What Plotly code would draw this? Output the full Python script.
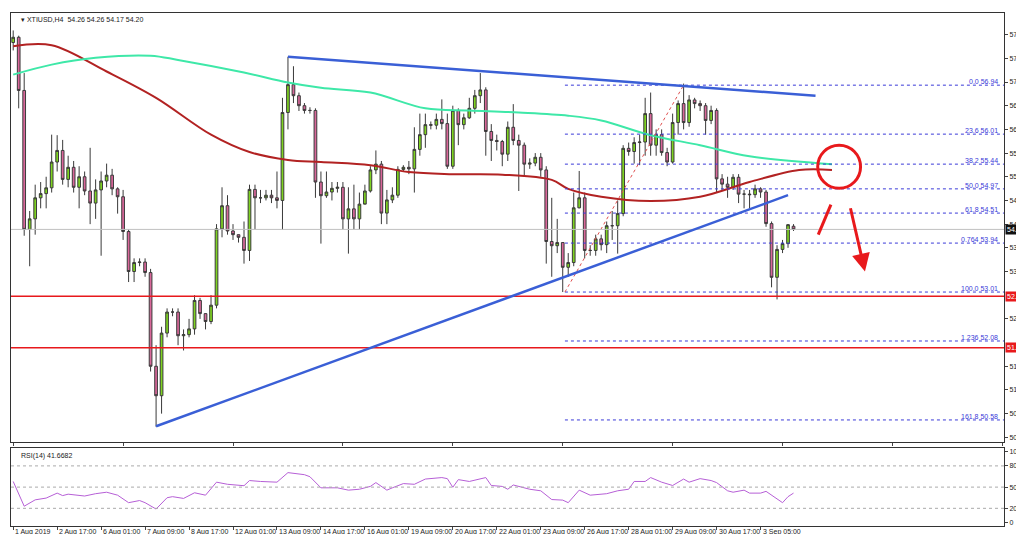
import plotly.graph_objects as go

# candle closes, 4h bars
closes = [57.85, 56.84, 54.20, 54.40, 54.80, 54.88, 54.99, 55.48, 55.70, 55.15,
          55.38, 55.00, 55.20, 54.93, 54.70, 54.95, 55.12, 55.23, 54.97, 54.82,
          54.16, 53.40, 53.57, 53.58, 53.38, 51.60, 51.04, 52.23, 52.63, 52.63,
          52.18, 52.20, 52.31, 52.85, 52.60, 52.45, 52.76, 54.21, 54.65, 54.17,
          54.10, 54.05, 53.80, 54.96, 54.80, 54.80, 54.85, 54.80, 54.75, 56.42,
          56.95, 56.74, 56.55, 56.46, 56.46, 55.10, 54.84, 54.91, 54.98, 55.00,
          54.40, 54.59, 54.40, 54.68, 54.93, 55.33, 55.44, 54.51, 54.76, 54.85,
          55.34, 55.38, 55.35, 55.72, 56.00, 56.19, 56.18, 56.29, 56.21, 55.40,
          56.46, 56.19, 56.32, 56.50, 56.74, 56.85, 56.06, 55.89, 55.87, 55.63,
          56.14, 55.89, 55.80, 55.44, 55.46, 55.57, 55.33, 53.97, 53.89, 53.95,
          53.48, 53.57, 54.61, 54.80, 53.80, 53.80, 54.02, 53.91, 54.27, 54.27,
          54.50, 55.74, 55.68, 55.85, 55.86, 56.40, 55.80, 56.00, 55.66, 55.48,
          56.23, 56.59, 56.23, 56.66, 56.59, 56.55, 56.27, 56.46, 55.16, 55.06,
          55.00, 55.19, 54.87, 54.87, 54.86, 54.97, 54.91, 54.31, 53.29, 53.82,
          53.93, 54.29, 54.20]
highs = [57.98, 57.88, 57.17, 54.55, 55.05, 55.10, 55.20, 56.00, 55.99, 55.90,
         55.60, 55.50, 55.40, 55.30, 55.75, 55.15, 55.30, 55.45, 55.35, 55.00,
         54.95, 54.20, 53.65, 53.65, 53.65, 53.45, 52.00, 52.35, 52.70, 52.70,
         52.70, 52.30, 52.50, 52.95, 52.90, 52.60, 52.95, 54.30, 55.00, 54.85,
         54.30, 54.10, 54.35, 55.05, 55.05, 54.95, 54.95, 54.95, 55.30, 56.70,
         57.48, 57.30, 56.80, 56.60, 56.52, 56.50, 55.30, 55.30, 55.10, 55.10,
         55.10, 55.00, 55.05, 54.90, 55.05, 55.40, 55.70, 55.50, 54.95, 55.00,
         55.40, 55.42, 55.50, 56.14, 56.40, 56.40, 56.25, 56.40, 56.67, 56.40,
         56.55, 56.50, 56.40, 56.70, 56.85, 57.17, 56.90, 56.20, 56.00, 55.90,
         56.25, 56.58, 56.00, 55.85, 55.55, 55.65, 55.65, 55.40, 54.80, 54.40,
         53.95, 53.75, 54.90, 55.31, 54.90, 53.90, 54.10, 54.10, 54.35, 54.55,
         54.75, 55.80, 55.85, 55.95, 56.00, 56.70, 56.80, 56.10, 56.10, 55.75,
         56.40, 56.65, 56.97, 56.75, 56.70, 56.65, 56.60, 56.55, 56.50, 55.25,
         55.20, 55.25, 55.25, 54.95, 54.95, 55.05, 55.00, 54.95, 54.35, 53.90,
         54.00, 54.30, 54.30]
lows = [57.60, 56.50, 54.08, 53.50, 54.10, 54.60, 54.60, 54.90, 55.30, 55.05,
        55.00, 54.90, 54.60, 54.85, 54.30, 54.40, 53.70, 55.00, 54.85, 54.50,
        54.00, 53.20, 53.20, 53.50, 53.30, 51.50, 50.45, 50.70, 52.15, 52.55,
        52.00, 51.90, 52.15, 52.20, 52.50, 52.30, 52.40, 52.70, 54.05, 54.10,
        54.00, 53.95, 53.55, 53.60, 54.20, 54.70, 54.75, 54.70, 54.60, 54.19,
        56.10, 56.60, 56.45, 56.40, 56.40, 54.80, 53.93, 54.80, 54.75, 54.90,
        54.20, 53.74, 54.20, 54.20, 54.70, 54.90, 55.25, 54.30, 54.30, 54.70,
        54.80, 55.30, 55.25, 54.90, 55.60, 55.75, 56.10, 56.10, 56.10, 55.35,
        55.35, 55.80, 56.10, 56.30, 56.40, 56.60, 55.60, 55.50, 55.70, 55.40,
        55.50, 55.80, 54.93, 55.20, 55.35, 55.40, 55.20, 53.55, 53.30, 53.75,
        53.01, 53.30, 53.50, 54.60, 53.65, 53.70, 53.70, 53.80, 53.75, 54.00,
        53.74, 54.45, 55.60, 55.45, 55.42, 55.60, 55.60, 55.60, 55.60, 55.40,
        55.45, 56.00, 56.10, 56.15, 56.50, 56.45, 56.00, 56.20, 54.90, 54.95,
        54.80, 54.95, 54.70, 54.60, 54.60, 54.80, 54.80, 54.25, 53.10, 52.87,
        53.75, 53.85, 54.17]
opens = [57.75] + closes[:-1]
opens[-1] = 54.26

# moving averages (bar index, price)
ma_red_x = [0, 7, 17, 26, 36, 43, 50, 56, 65, 72, 80, 89, 98, 101, 107, 116, 125, 134, 143, 149]
ma_red_y = [57.68, 57.70, 57.20, 56.70, 56.00, 55.67, 55.52, 55.48, 55.42, 55.29,
            55.25, 55.24, 55.14, 54.97, 54.82, 54.74, 54.82, 55.10, 55.33, 55.33]
ma_green_x = [0, 7, 15, 25, 30, 42, 50, 56, 65, 75, 83, 92, 101, 107, 116, 125, 134, 149]
ma_green_y = [57.14, 57.33, 57.46, 57.50, 57.42, 57.18, 56.99, 56.89, 56.80, 56.50,
              56.46, 56.42, 56.36, 56.27, 55.99, 55.80, 55.59, 55.44]

rsi_x = [0, 2, 4, 6, 8, 9, 10, 13, 15, 17, 19, 21, 23, 24, 26, 28, 29, 31, 33, 35,
         37, 39, 42, 43, 45, 48, 50, 53, 54, 56, 59, 61, 63, 65, 66, 68, 69, 71, 73, 75,
         78, 79, 80, 81, 83, 86, 87, 89, 90, 91, 94, 96, 98, 100, 101, 103, 105, 108, 110, 112,
         113, 115, 116, 118, 120, 122, 123, 125, 127, 128, 130, 131, 133, 134, 136, 137, 140, 141, 142]
rsi_y = [58, 23, 32, 34.5, 41.5, 38, 40, 37.4, 40.7, 42.8, 38.6, 28, 31, 28, 19, 35, 36.5, 34, 42, 38.6,
         57, 54, 52, 59.3, 58, 57, 70.5, 67.6, 64.7, 49, 49, 45.7, 47, 51, 56.4, 45.7, 49, 55, 54, 61.4,
         63.5, 62, 49.8, 60.6, 58, 63.5, 52.3, 51, 47, 53, 47, 44.8, 32.4, 31.6, 28, 45.7, 38.6, 40.7, 44.8, 47,
         58, 58, 63.5, 57, 52.3, 61.4, 57, 62, 59.3, 56.4, 44.8, 42.8, 45.7, 41.5, 41.5, 44, 28, 36.5, 41.5]

fib_levels = [56.94, 56.01, 55.44, 54.97, 54.51, 53.94, 53.01, 52.08, 50.58]
fib_names = ["0.0", "23.6", "38.2", "50.0", "61.8", "0.764", "100.0", "1.236", "161.8"]

price_ticks = [57.90, 57.45, 57.00, 56.55, 56.10, 55.65, 55.20, 54.75, 54.30, 53.85,
               53.40, 52.50, 51.60, 51.15, 50.70, 50.25]
time_labels = ["1 Aug 2019", "2 Aug 17:00", "6 Aug 01:00", "7 Aug 09:00", "8 Aug 17:00",
               "12 Aug 01:00", "13 Aug 09:00", "14 Aug 17:00", "16 Aug 01:00", "19 Aug 09:00",
               "20 Aug 17:00", "22 Aug 01:00", "23 Aug 09:00", "26 Aug 17:00", "28 Aug 01:00",
               "29 Aug 09:00", "30 Aug 17:00", "3 Sep 05:00"]

idx = list(range(len(closes)))
XR = [-0.4, 180.3]
FONT = "Liberation Sans"

fig = go.Figure()
fig.add_trace(go.Candlestick(
    x=idx, open=opens, high=highs, low=lows, close=closes,
    increasing=dict(fillcolor="#7ed321", line=dict(color="#3a3a3a", width=1)),
    decreasing=dict(fillcolor="#d9679a", line=dict(color="#3a3a3a", width=1)),
    whiskerwidth=0, showlegend=False, hoverinfo="skip"))
fig.add_trace(go.Scatter(x=ma_red_x, y=ma_red_y, mode="lines", line_shape="spline",
                         line=dict(color="#b22222", width=2), showlegend=False))
fig.add_trace(go.Scatter(x=ma_green_x, y=ma_green_y, mode="lines", line_shape="spline",
                         line=dict(color="#3ee8a8", width=2), showlegend=False))
fig.add_trace(go.Scatter(x=rsi_x, y=rsi_y, mode="lines", xaxis="x2", yaxis="y2",
                         line=dict(color="#b65fd6", width=1), showlegend=False))

shapes = []
# fib retracement
for lv in fib_levels:
    shapes.append(dict(type="line", x0=100.4, x1=XR[1], y0=lv, y1=lv, xref="x", yref="y",
                       line=dict(color="#3a3ad8", width=1, dash="dot")))
shapes.append(dict(type="line", x0=100.4, x1=122, y0=53.01, y1=56.94, xref="x", yref="y",
                   line=dict(color="#e05050", width=1, dash="dot")))
# support lines, current price
for lv in [52.93, 51.95]:
    shapes.append(dict(type="line", x0=XR[0], x1=XR[1], y0=lv, y1=lv, xref="x", yref="y",
                       line=dict(color="#e8191c", width=1.5)))
shapes.append(dict(type="line", x0=XR[0], x1=XR[1], y0=54.20, y1=54.20, xref="x", yref="y",
                   line=dict(color="#c0c0c0", width=1)))
# trend lines
shapes.append(dict(type="line", x0=26, x1=141, y0=50.46, y1=54.85, xref="x", yref="y",
                   line=dict(color="#3a5fd6", width=2.5)))
shapes.append(dict(type="line", x0=50, x1=146, y0=57.48, y1=56.74, xref="x", yref="y",
                   line=dict(color="#3a5fd6", width=2.5)))
# circle + sketch marks
shapes.append(dict(type="circle", x0=146.4, x1=154.2, y0=54.98, y1=55.8, xref="x", yref="y",
                   line=dict(color="#e8191c", width=3)))
shapes.append(dict(type="line", x0=146.5, x1=148.8, y0=54.10, y1=54.67, xref="x", yref="y",
                   line=dict(color="#e8191c", width=3)))
# RSI grid
for lv in [20, 50, 80]:
    shapes.append(dict(type="line", x0=XR[0], x1=XR[1], y0=lv, y1=lv, xref="x2", yref="y2",
                       line=dict(color="#aaaaaa", width=1, dash="dot")))

ann = []
for lv, nm in zip(fib_levels, fib_names):
    ann.append(dict(x=179.5, y=lv, xref="x", yref="y", text=f"{nm} {lv:.2f}", showarrow=False,
                    xanchor="right", yanchor="bottom", yshift=-2,
                    font=dict(size=7, color="#3a3ad8", family=FONT)))
for lv, bg in [(52.93, "#e8191c"), (51.95, "#e8191c"), (54.20, "#111111")]:
    ann.append(dict(x=1, y=lv, xref="paper", yref="y", text=f"{lv:.2f}", showarrow=False,
                    xanchor="left", xshift=1, bgcolor=bg, borderpad=1,
                    font=dict(size=7, color="white", family=FONT)))
ann.append(dict(x=155, y=53.40, ax=152.3, ay=54.63, xref="x", yref="y", axref="x", ayref="y",
                text="", showarrow=True, arrowhead=2, arrowsize=1.2, arrowwidth=3,
                arrowcolor="#e8191c"))
ann.append(dict(x=0.008, y=0.995, xref="paper", yref="paper", text="▾ XTIUSD,H4  54.26 54.26 54.17 54.20",
                showarrow=False, xanchor="left", yanchor="top",
                font=dict(size=7, color="#222", family=FONT)))
ann.append(dict(x=0.008, y=0.148, xref="paper", yref="paper", text="RSI(14) 41.6682",
                showarrow=False, xanchor="left", yanchor="top",
                font=dict(size=7, color="#222", family=FONT)))
for k, t in enumerate(time_labels):
    ann.append(dict(x=k * 8, y=0, xref="x2", yref="paper", text=t, showarrow=False,
                    xanchor="left", yanchor="top",
                    font=dict(size=7, color="#222", family=FONT)))

axis_style = dict(showline=True, linecolor="#333", linewidth=1, mirror=True,
                  showgrid=False, zeroline=False, ticks="outside", ticklen=3,
                  tickfont=dict(size=7, color="#222", family=FONT))
fig.update_layout(
    width=1024, height=534, paper_bgcolor="white", plot_bgcolor="white",
    margin=dict(l=3, r=28, t=3, b=16),
    xaxis=dict(range=XR, domain=[0, 1], anchor="y", showticklabels=False,
               rangeslider=dict(visible=False), **axis_style),
    yaxis=dict(range=[50.16, 58.31], domain=[0.163, 0.996], side="right",
               tickvals=price_ticks, ticktext=[f"{v:.2f}" for v in price_ticks], **axis_style),
    xaxis2=dict(range=XR, domain=[0, 1], anchor="y2", matches="x",
                tickvals=[k * 8 for k in range(len(time_labels))], ticktext=[""] * len(time_labels),
                **axis_style),
    yaxis2=dict(range=[-5, 105], domain=[0, 0.151], side="right", anchor="x2",
                tickvals=[0, 20, 50, 80, 100], **axis_style),
    shapes=shapes, annotations=ann,
)

fig.write_html("out.html")
